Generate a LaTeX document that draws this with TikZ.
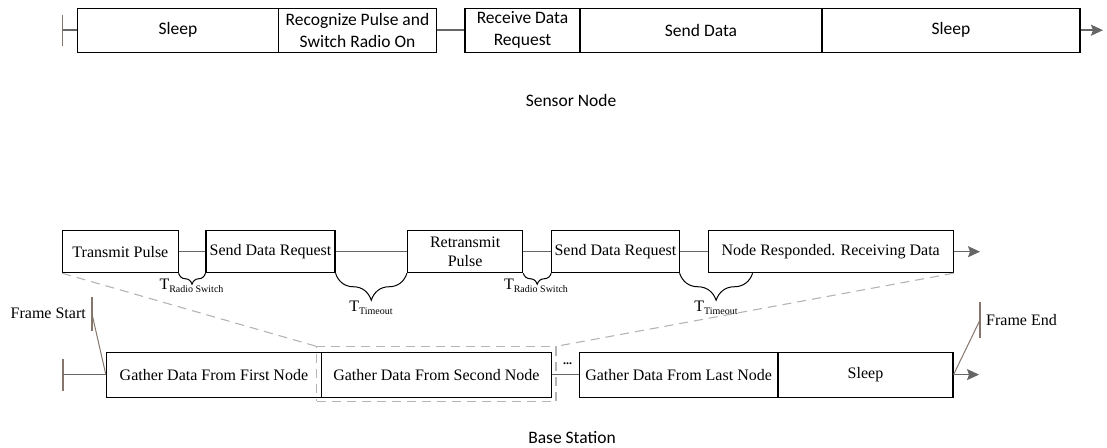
\documentclass[tikz,border=0pt]{standalone}
\usepackage{fontspec}
\setmainfont{Liberation Serif}
\newfontfamily\calib{Carlito}
\usetikzlibrary{arrows.meta,decorations.pathreplacing,calc}

\definecolor{linkgray}{HTML}{666666}
\definecolor{tickbrown}{HTML}{85756B}
\definecolor{guidegray}{HTML}{B4B4B4}

\begin{document}
\begin{tikzpicture}[x=1pt,y=-1pt,
  cellbase/.style={draw=black,line width=1.1pt,inner sep=0pt,align=center},
  sbox/.style={cellbase,minimum height=43.7pt,font=\calib\fontsize{17.5}{22}\selectfont},
  bbox/.style={cellbase,minimum height=42pt,font=\fontsize{16}{19.5}\selectfont},
  gbox/.style={cellbase,minimum height=45pt,font=\fontsize{16}{19.5}\selectfont},
  link/.style={draw=linkgray,line width=1.5pt},
  flow/.style={link,-{Stealth[length=12pt,width=11pt,inset=2pt]}},
  tickline/.style={draw=tickbrown,line width=1.2pt},
  guide/.style={draw=guidegray,line width=1.1pt,dash pattern=on 9pt off 6pt},
  bracket/.style={draw=black,line width=1pt,decorate,decoration={brace,mirror,amplitude=#1}},
  title/.style={font=\calib\fontsize{17.5}{21}\selectfont},
  lbl/.style={font=\fontsize{16}{19}\selectfont,inner sep=0pt},
]
\useasboundingbox (0,0) rectangle (1107,447);

% ---------------- Sensor node timeline ----------------
\node[sbox,minimum width=201pt] (s1) at (178,30.2) {Sleep};
\node[sbox,minimum width=158pt] (s2) at (357.5,30.2) {Recognize Pulse and\\Switch Radio On};
\node[sbox,minimum width=115pt] (s3) at (522.5,30.2) {Receive Data\\Request};
\node[sbox,minimum width=242pt] (s4) at (701,30.2) {Send Data};
\node[sbox,minimum width=258pt] (s5) at (951,30.2) {Sleep};

\coordinate (sstart) at (62.5,30.2);
\coordinate (send) at (1103,30.2);
\draw[tickline] ($(sstart)+(0,-15.5)$) -- ($(sstart)+(0,15.5)$);
\draw[link] (sstart) -- (s1.west);
\draw[link] (s2.east) -- (s3.west);
\draw[flow] (s5.east) -- (send);

\node[title] (sensor) at (571,100) {Sensor Node};

% ---------------- Detail of one gather phase ----------------
\node[bbox,minimum width=115.3pt] (b1) at (120.4,251.7) {Transmit Pulse};
\node[bbox,minimum width=129pt] (b2) at (270.5,251.7) {Send Data Request};
\node[bbox,minimum width=115.2pt] (b3) at (465.1,251.7) {Retransmit\\Pulse};
\node[bbox,minimum width=127.3pt] (b4) at (615.4,251.7) {Send Data Request};
\node[bbox,minimum width=244.7pt] (b5) at (830.7,251.7) {Node Responded. Receiving Data};

\coordinate (bend) at (980,251.7);
\draw[link] (b1.east) -- (b2.west);
\draw[link] (b2.east) -- (b3.west);
\draw[link] (b3.east) -- (b4.west);
\draw[link] (b4.east) -- (b5.west);
\draw[flow] (b5.east) -- (bend);

% waiting intervals
\coordinate (t2end) at ($(b4.south east)+(73,0)$);
\draw[bracket=11pt] (b1.south east) -- (b2.south west);
\draw[bracket=27pt] (b2.south east) -- (b3.south west);
\draw[bracket=11pt] (b3.south east) -- (b4.south west);
\draw[bracket=27pt] (b4.south east) -- (t2end);

\node[lbl,anchor=base] (r1) at (191.5,289) {T\raisebox{-3pt}{\fontsize{10}{12}\selectfont Radio Switch}};
\node[lbl,anchor=base] (o1) at (371,311) {T\raisebox{-3pt}{\fontsize{10}{12}\selectfont Timeout}};
\node[lbl,anchor=base] (r2) at (536,289) {T\raisebox{-3pt}{\fontsize{10}{12}\selectfont Radio Switch}};
\node[lbl,anchor=base] (o2) at (716,311) {T\raisebox{-3pt}{\fontsize{10}{12}\selectfont Timeout}};

% ---------------- Base station frame ----------------
\node[gbox,minimum width=215pt] (c1) at (213.9,374.6) {Gather Data From First Node};
\node[gbox,minimum width=230pt] (c2) at (436.4,374.6) {Gather Data From Second Node};
\node[gbox,minimum width=198.7pt] (c3) at (678.6,374.6) {Gather Data From Last Node};
\node[gbox,minimum width=175pt] (c4) at (865.5,374.6) {Sleep};

\coordinate (cstart) at (63,374.6);
\coordinate (cend) at (979,374.6);
\draw[tickline] ($(cstart)+(0,-16)$) -- ($(cstart)+(0,16)$);
\draw[link] (cstart) -- (c1.west);
\draw[link] (c2.east) -- (c3.west);
\draw[flow] (c4.east) -- (cend);
\node[inner sep=0pt,font=\fontsize{12}{12}\selectfont\bfseries] (dots) at (567.5,364) {...};

% zoom frame around the second gather phase
\node[guide,draw,inner sep=0pt,minimum width=239.2pt,minimum height=54.6pt] (zoomframe) at (436.4,374.1) {};
\draw[guide] (b1.south west) -- (zoomframe.north west);
\draw[guide] (b5.south east) -- (zoomframe.north east);

% frame start / end markers
\coordinate (fs) at (92,314);
\coordinate (fe) at (980,320);
\draw[tickline] ($(fs)+(0,-17)$) -- ($(fs)+(0,17)$);
\draw[tickline] ($(fe)+(0,-18)$) -- ($(fe)+(0,18)$);
\draw[tickline,line width=1pt] (fs) -- (c1.west);
\draw[tickline,line width=1pt] (c4.east) -- (fe);
\node[lbl,anchor=east] (fstext) at (86,313) {Frame Start};
\node[lbl,anchor=west] (fetext) at (986,320) {Frame End};

\node[title] (base) at (572,438) {Base Station};
\end{tikzpicture}
\end{document}
